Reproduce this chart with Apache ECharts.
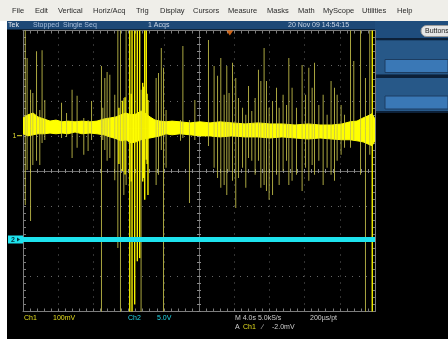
<!DOCTYPE html>
<html><head><meta charset="utf-8">
<script src="https://cdn.jsdelivr.net/npm/echarts@6/dist/echarts.min.js"></script>
<style>html,body{margin:0;padding:0;background:#000;overflow:hidden}#c{width:448px;height:339px}</style>
</head><body><div id="c"></div>
<script>
// ---------------- data (time in s, 4 s/div; Ch1 in mV, 100 mV/div; Ch2 in V) ----------------
const menuItems = ['File','Edit','Vertical','Horiz/Acq','Trig','Display','Cursors','Measure','Masks','Math','MyScope','Utilities','Help'];
const statusTexts = ['Tek','Stopped  Single Seq','1 Acqs','20 Nov 09 14:54:15'];
const ch1Label = ['Ch1','100mV'];
const ch2Label = ['Ch2','5.0V'];
const timebaseLabel = 'M 4.0s 5.0kS/s';
const resolutionLabel = '200\u00b5s/pt';
const triggerLabel = ['A','Ch1','\u2215','-2.0mV'];

// noise band envelope of Ch1
const envT     = [0, 0.57, 1.14, 1.70, 2.39, 3.07, 3.75, 4.43, 5.11, 5.91, 6.70, 7.61, 8.41, 9.20, 9.89, 10.57, 11.14, 11.70, 12.27, 12.84, 13.41, 13.86, 14.43, 15.0, 15.57, 16.25, 16.93, 17.84, 18.98, 20.11, 21.25, 22.39, 23.75, 25.23, 26.70, 28.07, 29.43, 30.91, 32.39, 33.75, 35.11, 36.25, 37.16, 37.95, 38.64, 39.2, 39.66, 40];
const envUpper = [31, 40, 45, 34, 28, 22, 25, 20, 22, 20, 22, 20, 22, 28, 31, 34, 40, 45, 40, 42, 51, 45, 34, 25, 22, 20, 22, 20, 17, 20, 17, 20, 17, 14, 17, 14, 14, 11, 14, 11, 11, 14, 20, 22, 31, 37, 43, 28];
const envLower = [-14, -20, -17, -14, -14, -12, -14, -12, -14, -9, -14, -12, -14, -17, -23, -28, -34, -31, -40, -37, -31, -28, -26, -23, -20, -14, -17, -14, -17, -20, -20, -23, -20, -23, -23, -26, -23, -26, -29, -26, -29, -31, -31, -34, -37, -43, -48, -34];

// dim spikes: [time, peak up, peak down]
const dimSpikes = [
 [0.28,280,-217],[0.49,202,-117],[0.88,111,-262],[1.14,102,-103],[1.56,221,-91],[1.93,54,-103],
 [2.19,224,-40],[2.50,82,-32],[4.40,74,-26],[4.97,45,-23],[5.60,111,-83],[6.17,94,-54],
 [6.93,31,-74],[7.42,25,-63],[7.81,79,-32],[8.94,179,-520],[9.09,60,-32],[9.32,145,-60],
 [9.58,162,-91],[9.89,154,-83],[10.45,97,-146],[10.80,280,-339],[11.10,280,-520],[11.48,88,-188],
 [11.74,280,-160],[13.44,111,-520],[15.15,145,-160],[15.42,159,-131],[15.74,230,-60],[15.99,174,-520],
 [16.28,54,-111],[17.92,25,-34],[18.19,236,-26],[18.94,25,-211],[19.55,82,-32],[21.10,253,-49],
 [21.74,179,-111],[22.13,151,-140],[22.50,202,-168],[22.88,97,-160],[23.18,179,-188],[23.44,102,-120],
 [23.83,188,-148],[24.20,145,-225],[24.51,88,-140],[24.97,60,-111],[25.34,40,-168],[25.65,122,-83],
 [26.02,51,-91],[26.40,88,-131],[26.78,168,-91],[27.05,136,-168],[27.42,230,-160],[27.69,136,-177],
 [27.99,60,-202],[28.38,79,-188],[28.83,117,-131],[29.13,60,-160],[29.58,97,-120],[29.97,68,-91],
 [30.23,202,-160],[30.60,117,-148],[31.10,60,-131],[31.74,182,-177],[32.13,97,-111],[32.50,174,-148],
 [32.88,117,-103],[33.15,188,-131],[33.64,68,-91],[34.13,97,-160],[34.58,40,-111],[35.03,136,-131],
 [35.42,117,-148],[35.72,97,-91],[36.17,68,-74],[36.56,40,-54],[37.24,280,-54],[37.61,193,-32],
 [38.38,280,-131],[38.94,145,-520],[39.43,280,-74]
];
// bright spikes (burst)
const brightSpikes = [
 [10.90,60,-100],[11.30,80,-120],[11.60,90,-130],[12.13,280,-520],[12.30,100,-150],[12.39,280,-520],
 [12.69,280,-500],[12.99,280,-377],[13.26,280,-368],[13.60,131,-150],[13.70,120,-140],[13.83,280,-202],
 [14.01,280,-88],[14.10,100,-100],[14.20,82,-188],[39.69,280,-520]
];
// Ch2 trace (flat)
const ch2T = [0, 40];
const ch2V = [0, 0];
const triggerTime = 23.5;

// ---------------- chart ----------------
const chart = echarts.init(document.getElementById('c'), null, {renderer:'canvas', width:448, height:339});
const GC = '#7c7c7c';
const FONT = 'Liberation Sans';

function divAxis(o){ return Object.assign({type:'value', axisLabel:{show:false}, splitLine:{show:false}, axisPointer:{show:false}, silent:true}, o); }
function frame(range, pos, split){
  return divAxis({min:-range, max:range, interval:1, position:pos,
    axisLine:{show:true, onZero:false, lineStyle:{color:GC, width:1}},
    axisTick:{show:true, inside:true, length:3, lineStyle:{color:GC}},
    minorTick:{show:true, splitNumber:5, length:3, lineStyle:{color:GC}},
    splitLine:{show:!!split, lineStyle:{color:'#666', width:1, type:[1,6]}}});
}
function center(range, pos, inside){
  return divAxis({min:-range, max:range, interval:1, position:pos,
    axisLine:{show:true, onZero:true, onZeroAxisIndex:0, lineStyle:{color:'#6e6e6e', width:1}},
    axisTick:{show:true, inside:inside, length:2, lineStyle:{color:'#8a8a8a'}},
    minorTick:{show:true, splitNumber:5, length:2, lineStyle:{color:'#8a8a8a'}}});
}

const xAxis = [frame(5,'bottom',true), frame(5,'top',false), center(5,'bottom',true), center(5,'bottom',false),
  {type:'value', min:0, max:40, show:false}];
const yAxis = [frame(4,'left',true), frame(4,'right',false), center(4,'left',true), center(4,'left',false),
  {type:'value', min:-520, max:280, show:false},
  {type:'value', min:-10.25, max:29.75, show:false}];

function bars(name, arr, idx, color, w){
  return {type:'bar', name, xAxisIndex:4, yAxisIndex:4, barWidth:w, barGap:'-100%', silent:true, animation:false,
    itemStyle:{color}, data: arr.map(r => [r[0], r[idx]])};
}

const txt = (text, x, y, fill, size, weight) => ({type:'text', x, y, silent:true,
  style:{text, fill, fontSize:size||7, fontFamily:FONT, fontWeight:weight||'normal', verticalAlign:'middle', align:'left'}});

const menuX = [12,35,58,93,136,160,193,228,267,298,323,362,397];
const graphic = [
  {type:'rect', shape:{x:0,y:0,width:448,height:21}, style:{fill:'#efeee9'}, silent:true},
  {type:'rect', shape:{x:0,y:21,width:7,height:318}, style:{fill:'#ffffff'}, silent:true},
  {type:'rect', shape:{x:7,y:21,width:368,height:8.5}, style:{fill:'#1d4876'}, silent:true},
  {type:'rect', shape:{x:375,y:21,width:73,height:92}, style:{fill:'#1f4d7d'}, silent:true},
  {type:'rect', shape:{x:375,y:38,width:73,height:2.5}, style:{fill:'#0c2038'}, silent:true},
  {type:'rect', shape:{x:376,y:40.5,width:72,height:34}, style:{fill:'#275888'}, silent:true},
  {type:'rect', shape:{x:385,y:59.5,width:63,height:13}, style:{fill:'#3a78b6', stroke:'#1c3d62', lineWidth:1}, silent:true},
  {type:'rect', shape:{x:375,y:74.5,width:73,height:3.5}, style:{fill:'#0c2038'}, silent:true},
  {type:'rect', shape:{x:376,y:78,width:72,height:33}, style:{fill:'#275888'}, silent:true},
  {type:'rect', shape:{x:385,y:96,width:63,height:13}, style:{fill:'#3a78b6', stroke:'#1c3d62', lineWidth:1}, silent:true},
  {type:'rect', shape:{x:375,y:111,width:73,height:2}, style:{fill:'#0c2038'}, silent:true},
  {type:'rect', shape:{x:421,y:25.5,width:32,height:11,r:5.5}, style:{fill:'#e6e6e6', stroke:'#9a9a9a', lineWidth:1}, silent:true},
  txt('Buttons', 425, 31.3, '#222', 7),
  // ch1 ground marker
  txt('1', 12.5, 135.7, '#e0da30', 7),
  {type:'line', shape:{x1:17,y1:135.7,x2:22,y2:135.7}, style:{stroke:'#e0da30', lineWidth:1}, silent:true},
  // ch2 marker
  {type:'rect', shape:{x:8,y:235.5,width:15,height:8}, style:{fill:'#1ee3ee'}, silent:true},
  txt('2', 11, 239.7, '#06323a', 7, 'bold'),
  {type:'polygon', shape:{points:[[17,237.5],[20,239.5],[17,241.5]]}, style:{fill:'#06323a'}, silent:true},
  // status bar
  txt(statusTexts[0], 8, 25.3, '#e4e8ee', 7),
  txt(statusTexts[1], 33, 25.3, '#a9bfdc', 7),
  txt(statusTexts[2], 148, 25.3, '#c9d5e6', 7),
  txt(statusTexts[3], 288, 25.3, '#c9d5e6', 7),
  // bottom readouts
  txt(ch1Label[0], 24, 317.7, '#e6df1e', 7),
  txt(ch1Label[1], 53, 317.7, '#e6df1e', 7),
  txt(ch2Label[0], 128, 317.7, '#22d6e6', 7),
  txt(ch2Label[1], 157, 317.7, '#22d6e6', 7),
  txt(timebaseLabel, 235, 317.7, '#cfcfcf', 7),
  txt(resolutionLabel, 310, 317.7, '#cfcfcf', 7),
  txt(triggerLabel[0], 235, 326.7, '#cfcfcf', 7),
  txt(triggerLabel[1], 243, 326.7, '#e6df1e', 7),
  txt(triggerLabel[2], 262, 326.7, '#cfcfcf', 7),
  txt(triggerLabel[3], 272, 326.7, '#cfcfcf', 7)
];
menuItems.forEach((m,i) => graphic.push(txt(m, menuX[i], 11, '#2a2a2a', 7.5)));

const YEL = '#ffff00';
const option = {
  backgroundColor:'#000',
  animation:false,
  grid:{left:23, top:30.5, width:352, height:281, containLabel:false},
  xAxis, yAxis,
  graphic,
  series:[
    bars('dimUp', dimSpikes, 1, 'rgba(200,195,75,0.85)', 1),
    bars('dimDown', dimSpikes, 2, 'rgba(200,195,75,0.85)', 1),
    bars('brightUp', brightSpikes, 1, '#f4f000', 1.4),
    bars('brightDown', brightSpikes, 2, '#f4f000', 1.4),
    {type:'custom', name:'band', xAxisIndex:4, yAxisIndex:4, silent:true, animation:false, clip:true,
      data:[[envT[0], envUpper[0]]],
      renderItem:function(params, api){
        const pts = [];
        for (let i = 0; i < envT.length; i++) pts.push(api.coord([envT[i], envUpper[i]]));
        for (let i = envT.length - 1; i >= 0; i--) pts.push(api.coord([envT[i], envLower[i]]));
        return {type:'polygon', shape:{points:pts}, style:{fill:YEL, stroke:YEL, lineWidth:1}};
      }},
    {type:'line', name:'Ch2', xAxisIndex:4, yAxisIndex:5, symbol:'none', silent:true, animation:false,
      lineStyle:{color:'#1ee3ee', width:5}, data: ch2T.map((t,i)=>[t, ch2V[i]])},
    {type:'scatter', name:'trigger', xAxisIndex:4, yAxisIndex:4, symbol:'triangle', symbolRotate:180,
      symbolSize:[7,5], symbolOffset:[0,2.5], itemStyle:{color:'#ff7a1a'}, silent:true, clip:false,
      data:[[triggerTime, 280]]}
  ]
};
chart.setOption(option);
</script></body></html>
